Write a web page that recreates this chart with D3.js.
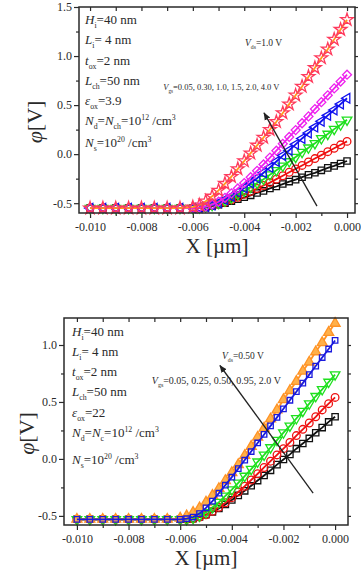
<!DOCTYPE html>
<html>
<head>
<meta charset="utf-8">
<script src="https://cdn.jsdelivr.net/npm/d3@7"></script>
<style>
	body { margin: 0; background: #fff; }
	svg text { font-family: 'Liberation Serif', 'Times New Roman', serif; fill: #2a2a2a; }
	.axis path { display: none; }
	.axis line { stroke: #2a2a2a; stroke-width: 1.2; }
	.frame { fill: none; stroke: #2a2a2a; stroke-width: 1.5; }
</style>
</head>
<body>
<div id="chart"></div>
<script>
'use strict';

// x grid (um): coarse in the flat part, fine where the potential rises
var xGrid = [-0.010, -0.0095, -0.009, -0.0085, -0.008, -0.0075, -0.007, -0.0065, -0.006,
	-0.00575, -0.0055, -0.00525, -0.005, -0.00475, -0.0045, -0.00425, -0.004,
	-0.00375, -0.0035, -0.00325, -0.003, -0.00275, -0.0025, -0.00225, -0.002,
	-0.00175, -0.0015, -0.00125, -0.001, -0.00075, -0.0005, -0.00025, 0];

// top panel, Vds = 1.0 V
var p1Black = [-0.55, -0.55, -0.55, -0.55, -0.55, -0.55, -0.55, -0.55, -0.55,
	-0.55, -0.545, -0.53, -0.515, -0.50, -0.48, -0.46, -0.44, -0.42, -0.395, -0.375, -0.35,
	-0.33, -0.305, -0.28, -0.26, -0.235, -0.21, -0.19, -0.165, -0.14, -0.12, -0.095, -0.07];
var p1Red = [-0.55, -0.55, -0.55, -0.55, -0.55, -0.55, -0.55, -0.55, -0.55,
	-0.55, -0.54, -0.525, -0.51, -0.49, -0.465, -0.44, -0.41, -0.38, -0.35, -0.32, -0.29,
	-0.255, -0.22, -0.185, -0.15, -0.115, -0.08, -0.045, -0.01, 0.025, 0.06, 0.095, 0.13];
var p1Green = [-0.55, -0.55, -0.55, -0.55, -0.55, -0.55, -0.55, -0.55, -0.55,
	-0.545, -0.535, -0.52, -0.50, -0.475, -0.445, -0.41, -0.375, -0.335, -0.295, -0.255, -0.21,
	-0.165, -0.12, -0.075, -0.03, 0.02, 0.065, 0.11, 0.16, 0.205, 0.255, 0.30, 0.35];
var p1Blue = [-0.55, -0.55, -0.55, -0.55, -0.55, -0.55, -0.55, -0.55, -0.55,
	-0.545, -0.535, -0.52, -0.495, -0.465, -0.43, -0.39, -0.345, -0.295, -0.245, -0.19, -0.135,
	-0.075, -0.015, 0.04, 0.10, 0.16, 0.215, 0.275, 0.335, 0.395, 0.45, 0.51, 0.57];
var p1Magenta = [-0.55, -0.55, -0.55, -0.55, -0.55, -0.55, -0.55, -0.55, -0.55,
	-0.545, -0.535, -0.515, -0.485, -0.445, -0.40, -0.35, -0.295, -0.235, -0.17, -0.105, -0.035,
	0.035, 0.105, 0.175, 0.245, 0.315, 0.385, 0.46, 0.53, 0.60, 0.67, 0.74, 0.81];
var p1Star = [-0.55, -0.55, -0.55, -0.55, -0.55, -0.55, -0.55, -0.55, -0.54,
	-0.52, -0.48, -0.43, -0.37, -0.30, -0.23, -0.15, -0.07, 0.01, 0.09, 0.17, 0.25,
	0.33, 0.42, 0.51, 0.60, 0.69, 0.79, 0.88, 0.98, 1.07, 1.17, 1.27, 1.37];

// bottom panel, Vds = 0.50 V
var p2Black = [-0.53, -0.53, -0.53, -0.53, -0.53, -0.53, -0.53, -0.53, -0.53,
	-0.53, -0.525, -0.51, -0.49, -0.465, -0.435, -0.40, -0.36, -0.32, -0.28, -0.235, -0.19,
	-0.145, -0.10, -0.05, -0.005, 0.04, 0.09, 0.135, 0.18, 0.23, 0.275, 0.325, 0.37];
var p2Red = [-0.53, -0.53, -0.53, -0.53, -0.53, -0.53, -0.53, -0.53, -0.53,
	-0.53, -0.525, -0.51, -0.49, -0.46, -0.425, -0.385, -0.34, -0.29, -0.24, -0.185, -0.13,
	-0.075, -0.02, 0.035, 0.09, 0.145, 0.205, 0.26, 0.315, 0.37, 0.43, 0.485, 0.54];
var p2Green = [-0.53, -0.53, -0.53, -0.53, -0.53, -0.53, -0.53, -0.53, -0.53,
	-0.53, -0.52, -0.50, -0.47, -0.425, -0.38, -0.325, -0.27, -0.21, -0.15, -0.09, -0.025,
	0.035, 0.10, 0.165, 0.23, 0.29, 0.355, 0.42, 0.485, 0.55, 0.61, 0.675, 0.74];
var p2Blue = [-0.53, -0.53, -0.53, -0.53, -0.53, -0.53, -0.53, -0.53, -0.53,
	-0.525, -0.51, -0.48, -0.43, -0.37, -0.30, -0.23, -0.16, -0.085, -0.01, 0.065, 0.14,
	0.215, 0.29, 0.365, 0.44, 0.515, 0.59, 0.665, 0.74, 0.815, 0.89, 0.965, 1.04];
var p2Orange = [-0.53, -0.53, -0.53, -0.53, -0.53, -0.53, -0.53, -0.53, -0.52,
	-0.50, -0.47, -0.43, -0.38, -0.32, -0.26, -0.19, -0.12, -0.05, 0.03, 0.11, 0.19,
	0.27, 0.35, 0.43, 0.52, 0.60, 0.68, 0.77, 0.85, 0.94, 1.02, 1.11, 1.19];

var xTicks = [-0.010, -0.008, -0.006, -0.004, -0.002, 0.000];
var xMinorTicks = [-0.009, -0.007, -0.005, -0.003, -0.001];
var p1YTicks = [-0.5, 0.0, 0.5, 1.0, 1.5];
var p1YMinorTicks = [-0.25, 0.25, 0.75, 1.25];
var p2YTicks = [-0.5, 0.0, 0.5, 1.0];
var p2YMinorTicks = [-0.25, 0.25, 0.75];

var p1Params = [
	[['H', 'i'], ['i', 'sub'], ['=40 nm', '']],
	[['L', 'i'], ['i', 'sub'], ['= 4 nm', '']],
	[['t', 'i'], ['ox', 'sub'], ['=2 nm', '']],
	[['L', 'i'], ['ch', 'sub'], ['=50 nm', '']],
	[['\u03b5', 'i'], ['ox', 'sub'], ['=3.9', '']],
	[['N', 'i'], ['d', 'sub'], ['=', ''], ['N', 'i'], ['ch', 'sub'], ['=10', ''], ['12', 'sup'], [' /cm', ''], ['3', 'sup']],
	[['N', 'i'], ['s', 'sub'], ['=10', ''], ['20', 'sup'], [' /cm', ''], ['3', 'sup']]
];
var p2Params = [
	[['H', 'i'], ['i', 'sub'], ['=40 nm', '']],
	[['L', 'i'], ['i', 'sub'], ['= 4 nm', '']],
	[['t', 'i'], ['ox', 'sub'], ['=2 nm', '']],
	[['L', 'i'], ['ch', 'sub'], ['=50 nm', '']],
	[['\u03b5', 'i'], ['ox', 'sub'], ['=22', '']],
	[['N', 'i'], ['d', 'sub'], ['=', ''], ['N', 'i'], ['c', 'sub'], ['=10', ''], ['12', 'sup'], [' /cm', ''], ['3', 'sup']],
	[['N', 'i'], ['s', 'sub'], ['=10', ''], ['20', 'sup'], [' /cm', ''], ['3', 'sup']]
];

var svg = d3.select('#chart')
	.append('svg')
	.attr('width', 361)
	.attr('height', 573);

var richText = function (sel, x, y, parts, size) {
	var text = sel.append('text')
		.attr('x', x)
		.attr('y', y)
		.style('font-size', size + 'px');
	var shift = 0;
	parts.forEach(function (p) {
		var span = text.append('tspan').text(p[0]);
		var want = 0;
		if (p[1] === 'sub') { want = size * 0.3; }
		if (p[1] === 'sup') { want = -size * 0.4; }
		span.attr('dy', want - shift);
		shift = want;
		if (p[1] === 'sub' || p[1] === 'sup') { span.style('font-size', (size * 0.6) + 'px'); }
		if (p[1] === 'i') { span.style('font-style', 'italic'); }
	});
	return text;
};

var drawPanel = function (cfg) {
	var xScale = d3.scaleLinear().domain(cfg.xDomain).range([cfg.left, cfg.right]),
		yScale = d3.scaleLinear().domain(cfg.yDomain).range([cfg.bottom, cfg.top]);

	var g = svg.append('g');

	// axes
	g.append('g').attr('class', 'axis')
		.attr('transform', 'translate(0,' + cfg.bottom + ')')
		.call(d3.axisBottom(xScale).tickValues(xTicks).tickSize(5).tickPadding(4)
			.tickFormat(function (d) { return d.toFixed(3); }))
		.selectAll('text').style('font-size', '12px');
	g.append('g').attr('class', 'axis')
		.attr('transform', 'translate(0,' + cfg.bottom + ')')
		.call(d3.axisBottom(xScale).tickValues(xMinorTicks).tickSize(3).tickFormat(''));
	g.append('g').attr('class', 'axis')
		.attr('transform', 'translate(0,' + cfg.top + ')')
		.call(d3.axisTop(xScale).tickValues(xTicks.concat(xMinorTicks)).tickSize(-4).tickFormat(''));

	g.append('g').attr('class', 'axis')
		.attr('transform', 'translate(' + cfg.left + ',0)')
		.call(d3.axisLeft(yScale).tickValues(cfg.yTicks).tickSize(5).tickPadding(2)
			.tickFormat(function (d) { return d.toFixed(1); }))
		.selectAll('text').style('font-size', '12px');
	g.append('g').attr('class', 'axis')
		.attr('transform', 'translate(' + cfg.left + ',0)')
		.call(d3.axisLeft(yScale).tickValues(cfg.yMinorTicks).tickSize(3).tickFormat(''));
	g.append('g').attr('class', 'axis')
		.attr('transform', 'translate(' + cfg.right + ',0)')
		.call(d3.axisRight(yScale).tickValues(cfg.yTicks.concat(cfg.yMinorTicks)).tickSize(3).tickFormat(''));

	// series
	var line = d3.line()
		.x(function (d) { return xScale(d[0]); })
		.y(function (d) { return yScale(d[1]); });

	cfg.series.forEach(function (s) {
		var pts = xGrid.map(function (x, i) { return [x, s.values[i]]; });

		g.append('path')
			.datum(pts)
			.attr('fill', 'none')
			.attr('stroke', s.lineColor)
			.attr('stroke-width', 1.8)
			.attr('d', line);

		var sym = d3.symbol().type(s.symbol).size(s.size || 42);
		g.append('g')
			.selectAll('path')
			.data(pts)
			.join('path')
			.attr('d', sym)
			.attr('transform', function (d) {
				return 'translate(' + xScale(d[0]) + ',' + yScale(d[1]) + ') rotate(' + (s.rotate || 0) + ')';
			})
			.attr('fill', s.fill || 'none')
			.attr('stroke', s.color)
			.attr('stroke-width', 1.3);
	});

	// arrow
	g.append('line')
		.attr('x1', xScale(cfg.arrow[0][0]))
		.attr('y1', yScale(cfg.arrow[0][1]))
		.attr('x2', xScale(cfg.arrow[1][0]))
		.attr('y2', yScale(cfg.arrow[1][1]))
		.attr('stroke', '#222')
		.attr('stroke-width', 1.3)
		.attr('marker-end', 'url(#arrowHead)');

	// annotations
	cfg.params.forEach(function (parts, i) {
		richText(g, cfg.paramX, cfg.paramY[i], parts, 13);
	});
	richText(g, xScale(cfg.vdsPos[0]), yScale(cfg.vdsPos[1]), cfg.vdsText, 9.5);
	richText(g, xScale(cfg.vgsPos[0]), yScale(cfg.vgsPos[1]), cfg.vgsText, cfg.vgsSize);

	// frame
	g.append('rect')
		.attr('class', 'frame')
		.attr('x', cfg.left)
		.attr('y', cfg.top)
		.attr('width', cfg.right - cfg.left)
		.attr('height', cfg.bottom - cfg.top);

	// axis titles
	g.append('text')
		.attr('x', (cfg.left + cfg.right) / 2)
		.attr('y', cfg.bottom + 40)
		.attr('text-anchor', 'middle')
		.style('font-size', '21px')
		.text('X [\u00b5m]');

	var yt = g.append('text')
		.attr('transform', 'translate(' + cfg.yTitleX + ',' + ((cfg.top + cfg.bottom) / 2 + 12) + ') rotate(-90)')
		.attr('text-anchor', 'middle')
		.style('font-size', '22px');
	yt.append('tspan').style('font-style', 'italic').text('\u03c6');
	yt.append('tspan').text('[V]');
};

svg.append('defs')
	.append('marker')
	.attr('id', 'arrowHead')
	.attr('viewBox', '0 0 10 10')
	.attr('refX', 9)
	.attr('refY', 5)
	.attr('markerWidth', 6)
	.attr('markerHeight', 6)
	.attr('orient', 'auto')
	.append('path')
	.attr('d', 'M0,1 L10,5 L0,9 Z')
	.attr('fill', '#222');

drawPanel({
	left: 79, right: 355, top: 7, bottom: 213,
	xDomain: [-0.01043, 0.00031],
	yDomain: [-0.6, 1.5],
	yTicks: p1YTicks,
	yMinorTicks: p1YMinorTicks,
	yTitleX: 42,
	series: [
		{ values: p1Black, color: '#111', lineColor: '#111', symbol: d3.symbolSquare, size: 40 },
		{ values: p1Red, color: '#ee1111', lineColor: '#ee1111', symbol: d3.symbolCircle, size: 46 },
		{ values: p1Green, color: '#1ee01e', lineColor: '#1ee01e', symbol: d3.symbolTriangle, size: 40, rotate: 180 },
		{ values: p1Blue, color: '#1111ee', lineColor: '#1111ee', symbol: d3.symbolTriangle, size: 40, rotate: -90 },
		{ values: p1Magenta, color: '#ee22ee', lineColor: '#ee22ee', symbol: d3.symbolSquare, size: 40, rotate: 45 },
		{ values: p1Star, color: '#ff3a5c', lineColor: '#ff9a1a', symbol: d3.symbolStar, size: 50 }
	],
	arrow: [[-0.00117, -0.53], [-0.00323, 0.42]],
	params: p1Params,
	paramX: 85,
	paramY: [24, 44, 65, 85, 105, 125, 147],
	vdsPos: [-0.00397, 1.10],
	vdsText: [['V', 'i'], ['ds', 'sub'], ['=1.0 V', '']],
	vgsPos: [-0.00715, 0.65],
	vgsSize: 8.5,
	vgsText: [['V', 'i'], ['gs', 'sub'], ['=0.05, 0.30, 1.0, 1.5, 2.0, 4.0 V', '']]
});

drawPanel({
	left: 64, right: 348, top: 318, bottom: 525,
	xDomain: [-0.0105, 0.0005],
	yDomain: [-0.58, 1.237],
	yTicks: p2YTicks,
	yMinorTicks: p2YMinorTicks,
	yTitleX: 34,
	series: [
		{ values: p2Black, color: '#111', lineColor: '#111', symbol: d3.symbolSquare, size: 40 },
		{ values: p2Red, color: '#ee1111', lineColor: '#ee1111', symbol: d3.symbolCircle, size: 46 },
		{ values: p2Green, color: '#1ee01e', lineColor: '#1ee01e', symbol: d3.symbolTriangle, size: 40, rotate: 180 },
		{ values: p2Orange, color: '#ff9224', lineColor: '#ff9224', symbol: d3.symbolTriangle, size: 44, fill: '#ffb04a' },
		{ values: p2Blue, color: '#1a1add', lineColor: '#1a1add', symbol: d3.symbolSquare, size: 30 }
	],
	arrow: [[-0.00085, -0.30], [-0.00446, 0.82]],
	params: p2Params,
	paramX: 72,
	paramY: [336, 356, 376, 396, 417, 437, 464],
	vdsPos: [-0.00438, 0.88],
	vdsText: [['V', 'i'], ['ds', 'sub'], ['=0.50 V', '']],
	vgsPos: [-0.0071, 0.66],
	vgsSize: 10,
	vgsText: [['V', 'i'], ['gs', 'sub'], ['=0.05, 0.25, 0.50, 0.95, 2.0 V', '']]
});
</script>
</body>
</html>
